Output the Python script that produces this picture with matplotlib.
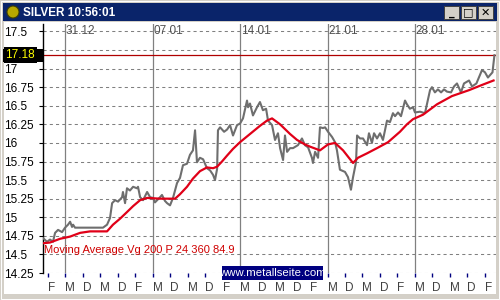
import numpy as np
import matplotlib.pyplot as plt
from matplotlib.patches import Rectangle, Circle
from matplotlib.transforms import blended_transform_factory

plt.rcParams['font.family'] = ['Liberation Sans', 'DejaVu Sans']

# silver price, x = trading days counted from Fri 28.12 (day 0)
price_day = [-0.26, -0.03, 0.14, 0.31, 0.43, 0.60, 0.83, 1.00, 1.17, 1.29, 1.40, 1.46,
             1.57, 2.43, 3.17, 3.40, 3.57, 3.69, 3.86, 4.03, 4.26, 4.31, 4.43, 4.54,
             4.71, 4.89, 5.11, 5.17, 5.29, 5.46, 5.69, 5.86, 6.03, 6.14, 6.43, 6.54,
             6.71, 6.83, 7.00, 7.17, 7.40, 7.57, 7.74, 7.97, 8.14, 8.31, 8.43, 8.54,
             8.71, 8.89, 9.11, 9.29, 9.46, 9.57, 9.69, 9.74, 9.86, 10.09, 10.26, 10.43,
             10.60, 10.83, 11.00, 11.17, 11.40, 11.46, 11.57, 11.74, 11.97, 12.14, 12.31,
             12.49, 12.60, 12.83, 13.00, 13.17, 13.29, 13.46, 13.57, 13.69, 13.86, 14.03,
             14.31, 14.54, 14.71, 14.89, 15.11, 15.17, 15.29, 15.46, 15.57, 15.74, 15.86,
             16.03, 16.26, 16.43, 16.54, 16.71, 17.00, 17.17, 17.34, 17.46, 17.63, 17.69,
             17.86, 18.03, 18.26, 18.37, 18.54, 18.66, 18.83, 19.00, 19.17, 19.40, 19.57,
             19.74, 19.86, 20.03, 20.20, 20.43, 20.54, 20.71, 20.89, 21.00, 21.29, 21.57,
             21.86, 21.97, 22.14, 22.31, 22.49, 22.66, 22.83, 23.06, 23.23, 23.40, 23.63,
             23.80, 24.09, 24.26, 24.51, 24.83, 25.00, 25.17, 25.43, 25.54]
price_val = [14.72, 14.67, 14.70, 14.67, 14.79, 14.83, 14.80, 14.86, 14.90, 14.94, 14.87, 14.90,
             14.86, 14.86, 14.86, 14.90, 14.99, 15.19, 15.23, 15.21, 15.27, 15.34, 15.19, 15.39,
             15.36, 15.41, 15.39, 15.41, 15.27, 15.23, 15.34, 15.27, 15.26, 15.20, 15.27, 15.30,
             15.22, 15.19, 15.16, 15.26, 15.46, 15.53, 15.70, 15.72, 15.84, 15.90, 16.17, 15.74,
             15.80, 15.78, 15.66, 15.63, 15.57, 15.50, 15.65, 16.17, 16.21, 16.15, 16.18, 16.24,
             16.10, 16.24, 16.26, 16.33, 16.57, 16.48, 16.53, 16.37, 16.48, 16.55, 16.44,
             16.46, 16.30, 16.24, 16.04, 16.13, 15.93, 15.77, 16.10, 15.88, 15.93, 15.93,
             15.97, 16.06, 15.97, 15.94, 15.80, 15.73, 15.88, 15.80, 16.21, 16.20, 16.21,
             16.15, 16.08, 16.01, 15.90, 15.64, 15.61, 15.54, 15.37, 15.54, 15.74, 16.10,
             16.06, 16.06, 15.97, 16.13, 16.00, 16.13, 16.06, 16.13, 16.04, 16.30, 16.28,
             16.40, 16.36, 16.41, 16.36, 16.57, 16.52, 16.46, 16.48, 16.41, 16.42, 16.40,
             16.71, 16.75, 16.68, 16.72, 16.68, 16.72, 16.69, 16.68, 16.76, 16.80, 16.68,
             16.80, 16.84, 16.76, 16.80, 16.98, 16.95, 16.88, 16.95, 17.18]

# moving average
ma_day = [-0.26, 0.14, 0.71, 1.29, 1.86, 2.43, 3.40, 3.74, 4.14, 4.54, 4.89, 5.29, 5.69,
          6.43, 7.29, 7.57, 7.97, 8.31, 8.71, 9.11, 9.46, 9.69, 9.97, 10.26, 10.60, 11.00,
          11.57, 12.14, 12.54, 12.83, 13.29, 13.86, 14.26, 14.71, 15.00, 15.57, 16.03,
          16.43, 16.89, 17.29, 17.46, 17.74, 18.26, 18.83, 19.46, 20.14, 20.54, 20.89,
          21.46, 22.26, 23.11, 24.09, 24.83, 25.49]
ma_val = [14.65, 14.66, 14.71, 14.74, 14.79, 14.81, 14.81, 14.90, 14.98, 15.07, 15.15, 15.23,
          15.26, 15.25, 15.25, 15.31, 15.41, 15.52, 15.62, 15.67, 15.66, 15.68, 15.75, 15.83,
          15.92, 16.01, 16.12, 16.23, 16.30, 16.33, 16.25, 16.12, 16.04, 15.98, 15.95, 15.90,
          15.98, 16.00, 15.90, 15.78, 15.73, 15.80, 15.86, 15.93, 16.01, 16.15, 16.25, 16.32,
          16.38, 16.52, 16.63, 16.71, 16.78, 16.84]

last_price = 17.18
week_letters = ['F', 'M', 'D', 'M', 'D']
n_days = 26
monday_days = [1, 6, 11, 16, 21]
monday_labels = ['31.12', '07.01', '14.01', '21.01', '28.01']
y_ticks = np.arange(14.25, 17.51, 0.25)

fig = plt.figure(figsize=(5, 3), dpi=100)
fig.patch.set_facecolor('#d4d0c8')

# window chrome (pixel space)
bg = fig.add_axes([0, 0, 1, 1], zorder=0)
bg.set_xlim(0, 500)
bg.set_ylim(300, 0)
bg.axis('off')
bg.add_patch(Rectangle((0, 0), 500, 300, fc='#d4d0c8', ec='none'))
bg.add_patch(Rectangle((1, 1), 498, 298, fc='none', ec='white', lw=0.7))
bg.add_patch(Rectangle((3, 3), 494, 18, fc='#0a246a', ec='none'))
bg.add_patch(Rectangle((4, 22), 492, 272, fc='white', ec='none'))
bg.add_patch(Circle((13, 12), 6, fc='#b8a800', ec='#404000', lw=0.8))
bg.text(23, 12.5, 'SILVER 10:56:01', color='white', fontsize=8.5, fontweight='bold',
        va='center', ha='left')
for bx, glyph in zip([444, 461, 478], ['_', '□', '✕']):
    bg.add_patch(Rectangle((bx, 6), 15, 13, fc='#d4d0c8', ec='#404040', lw=0.7))
    bg.text(bx + 7.5, 12.5, glyph, fontsize=8, fontweight='bold', ha='center', va='center',
            family='DejaVu Sans', color='black')

ax = fig.add_axes([43 / 500, 27 / 300, 453 / 500, 249 / 300], zorder=1)
ax.set_facecolor('none')
ax.set_xlim(-0.26, 25.63)
ax.set_ylim(14.25, 17.6)

for y in y_ticks:
    ax.axhline(y, color='#808080', lw=0.75, ls=(0, (3, 3)), zorder=1)
for d in monday_days:
    ax.axvline(d, color='#808080', lw=0.9, zorder=1)
for d, lab in zip(monday_days, monday_labels):
    ax.text(d + 0.05, 17.5, lab, fontsize=8.5, color='#505050', ha='left', va='center')

ax.axhline(last_price, color='#b00000', lw=0.9, zorder=2)
ax.plot(price_day, price_val, color='#6e6e6e', lw=1.5, zorder=3)
ax.plot(ma_day, ma_val, color='#e00018', lw=1.6, zorder=4)

ax.text(0.003, 0.094, 'Moving Average Vg 200 P 24 360 84.9', transform=ax.transAxes,
        color='#d00000', fontsize=8, ha='left', va='center')

for s in ['top', 'right', 'bottom']:
    ax.spines[s].set_visible(False)
ax.spines['left'].set_color('black')
ax.spines['left'].set_linewidth(1)

ylabels = ['' if abs(v - 17.25) < 1e-6 else '%g' % v for v in y_ticks]
ax.set_yticks(y_ticks, ylabels)
ax.tick_params(axis='y', direction='out', length=3, width=0.8, color='black',
               labelsize=8.5, pad=25)
for lbl in ax.get_yticklabels():
    lbl.set_ha('left')

days = np.arange(n_days)
ax.set_xticks(days, [week_letters[d % 5] for d in days])
ax.tick_params(axis='x', direction='out', length=3, width=1, color='#000080',
               labelsize=8.5, labelcolor='#404040', pad=3.5)
for lbl in ax.get_xticklabels():
    lbl.set_ha('left')

# current price tag
tr = blended_transform_factory(ax.transAxes, ax.transData)
ax.text(-0.083, last_price, '%.2f' % last_price, transform=tr, color='#ffff00', fontsize=8.5,
        ha='left', va='center', clip_on=False, zorder=5,
        bbox=dict(boxstyle='square,pad=0.15', fc='black', ec='none'))
ax.add_patch(Rectangle((-0.088, last_price - 0.09), 0.088, 0.18, transform=tr,
                       fc='black', ec='none', clip_on=False, zorder=4.5))

# website badge
fg = fig.add_axes([0, 0, 1, 1], zorder=2)
fg.set_xlim(0, 500)
fg.set_ylim(300, 0)
fg.axis('off')
fg.add_patch(Rectangle((222, 266), 101, 14, fc='#000080', ec='none'))
fg.text(272.5, 273, 'www.metallseite.com', color='white', fontsize=8.2,
        ha='center', va='center')

fig.savefig('out.png', dpi=100)
